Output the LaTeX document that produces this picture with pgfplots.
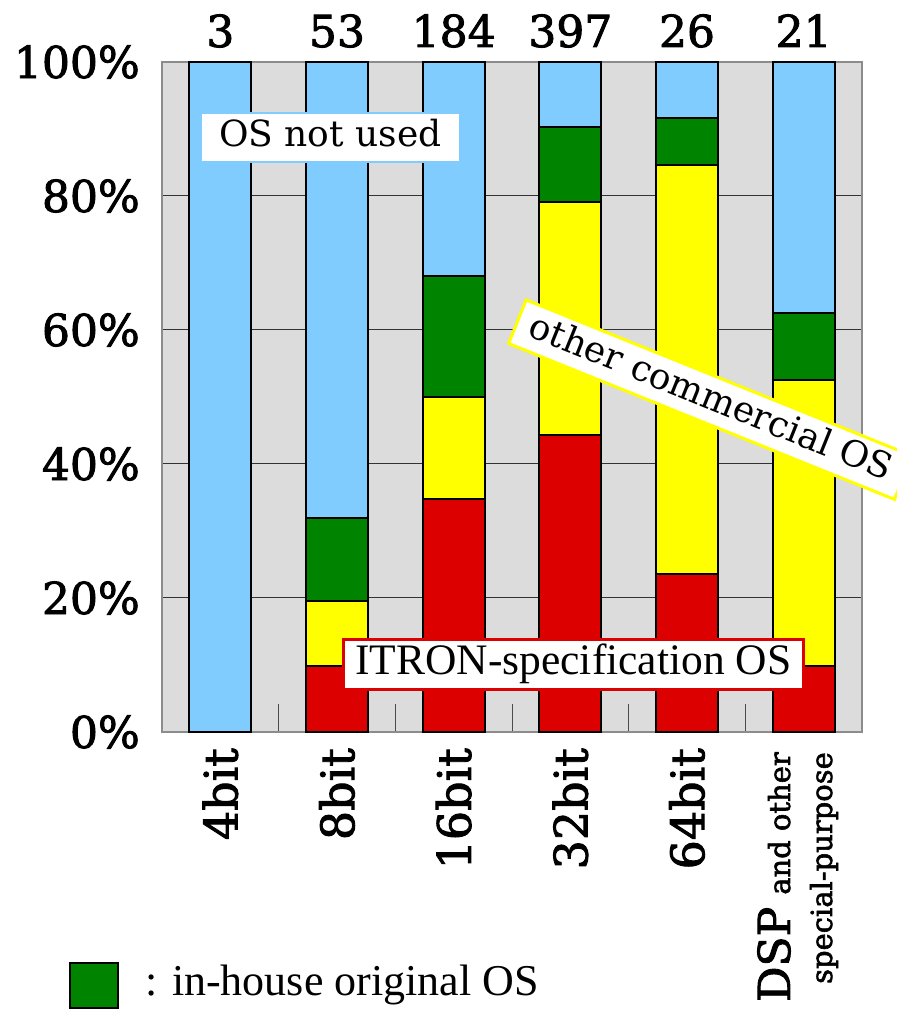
\documentclass[border=0pt]{standalone}
\usepackage{fontspec}
\setmainfont{DejaVu Serif}
\newfontfamily\heavy{DejaVu Serif}[FakeBold=2]
\newfontfamily\timesf{Liberation Serif}
\usepackage{pgfplots}
\usepackage{pgfplotstable}
\pgfplotsset{compat=1.18}
\usetikzlibrary{calc}

\definecolor{osblue}{RGB}{128,204,255}
\definecolor{osgreen}{RGB}{0,132,0}
\definecolor{osyellow}{RGB}{255,255,0}
\definecolor{osred}{RGB}{221,0,0}
\definecolor{bg}{RGB}{220,220,220}

\pgfplotstableread{
x red yellow green blue
0 0 0 0 100
1 9.8 9.7 12.5 68.0
2 34.8 15.2 18.1 31.9
3 44.4 34.7 11.2 9.7
4 23.6 61.1 7.0 8.3
5 9.8 42.8 9.9 37.5
}\data

\tikzset{cnt/.style={anchor=base, font=\heavy\fontsize{44}{44}\selectfont, inner sep=0pt},
         cat/.style={rotate=90, anchor=east, font=\heavy\fontsize{46}{46}\selectfont, inner sep=0pt}}

\begin{document}
\begin{tikzpicture}
\begin{axis}[
  name=ax,
  scale only axis,
  width=700pt, height=670pt,
  xmin=-0.5, xmax=5.5, ymin=0, ymax=100,
  ybar stacked, bar width=62pt,
  clip=false,
  axis background/.style={fill=bg},
  axis line style={draw=black!45, line width=2pt},
  ytick={0,20,40,60,80,100},
  yticklabels={0\%,20\%,40\%,60\%,80\%,100\%},
  yticklabel style={font=\heavy\fontsize{44}{44}\selectfont, inner sep=0pt, xshift=-22pt},
  ymajorgrids,
  grid style={black!80, line width=1pt},
  major y tick style={draw=none},
  xtick={0,1,2,3,4,5},
  xticklabels={},
  major x tick style={draw=none},
  minor xtick={0.5,1.5,2.5,3.5,4.5},
  minor tick length=28pt,
  minor x tick style={black!70, line width=1pt},
  xtick pos=bottom, ytick pos=left,
  tick align=inside,
  every axis plot/.append style={draw=black, line width=2pt},
]
\addplot[fill=osred] table[x=x,y=red]{\data};
\addplot[fill=osyellow] table[x=x,y=yellow]{\data};
\addplot[fill=osgreen] table[x=x,y=green]{\data};
\addplot[fill=osblue] table[x=x,y=blue]{\data};

\coordinate (t0) at (axis cs:0,100);
\coordinate (t1) at (axis cs:1,100);
\coordinate (t2) at (axis cs:2,100);
\coordinate (t3) at (axis cs:3,100);
\coordinate (t4) at (axis cs:4,100);
\coordinate (t5) at (axis cs:5,100);
\coordinate (b0) at (axis cs:0,0);
\coordinate (b1) at (axis cs:1,0);
\coordinate (b2) at (axis cs:2,0);
\coordinate (b3) at (axis cs:3,0);
\coordinate (b4) at (axis cs:4,0);
\coordinate (b5) at (axis cs:5,0);
\coordinate (aNot) at (axis cs:0.943,88.8);
\coordinate (aItron) at (axis cs:3.026,10.1);
\coordinate (aOther) at (axis cs:4.20,49.6);
\end{axis}

% counts above bars
\node[cnt] at ($(t0)+(0,15pt)$) {3};
\node[cnt] at ($(t1)+(0,15pt)$) {53};
\node[cnt] at ($(t2)+(0,15pt)$) {184};
\node[cnt] at ($(t3)+(0,15pt)$) {397};
\node[cnt] at ($(t4)+(0,15pt)$) {26};
\node[cnt] at ($(t5)+(0,15pt)$) {21};
% category labels
\node[cat] at ($(b0)+(0,-16pt)$) {4bit};
\node[cat] at ($(b1)+(0,-16pt)$) {8bit};
\node[cat] at ($(b2)+(0,-16pt)$) {16bit};
\node[cat] at ($(b3)+(0,-16pt)$) {32bit};
\node[cat] at ($(b4)+(0,-16pt)$) {64bit};
\node[rotate=90, anchor=east, align=right, inner sep=0pt, font=\heavy\fontsize{29}{42}\selectfont]
  at ($(b5)+(-6pt,-20pt)$)
  {{\fontsize{44}{42}\selectfont DSP}\hspace{12pt}and other\\special-purpose};

% annotations
\node[fill=white, draw=osblue, line width=2pt, inner xsep=18pt, inner ysep=7pt,
      font=\fontsize{36}{36}\selectfont, text height=27pt, text depth=8pt]
  at (aNot) {OS not used};
\node[fill=white, draw=osred, line width=2.5pt, inner xsep=12pt, inner ysep=6pt,
      font=\timesf\fontsize{43.5}{43.5}\selectfont, text height=29pt, text depth=9pt]
  at (aItron) {ITRON-specification OS};
\node[fill=white, draw=osyellow, line width=3pt, inner xsep=14pt, inner ysep=6pt,
      rotate=-22, font=\fontsize{36}{36}\selectfont, text height=27pt, text depth=8pt]
  at (aOther) {other commercial OS};

% legend
\draw[fill=osgreen, line width=2pt] ($(ax.south west)+(-92pt,-231pt)$) rectangle ++(48pt,-45pt);
\node[anchor=west, inner sep=0pt, font=\timesf\fontsize{44}{44}\selectfont]
  at ($(ax.south west)+(-17pt,-253pt)$) {: in-house original OS};
\pgfresetboundingbox
\path ($(ax.south west)+(-162pt,-279pt)$) rectangle ++(896pt,1011pt);
\end{tikzpicture}
\end{document}
